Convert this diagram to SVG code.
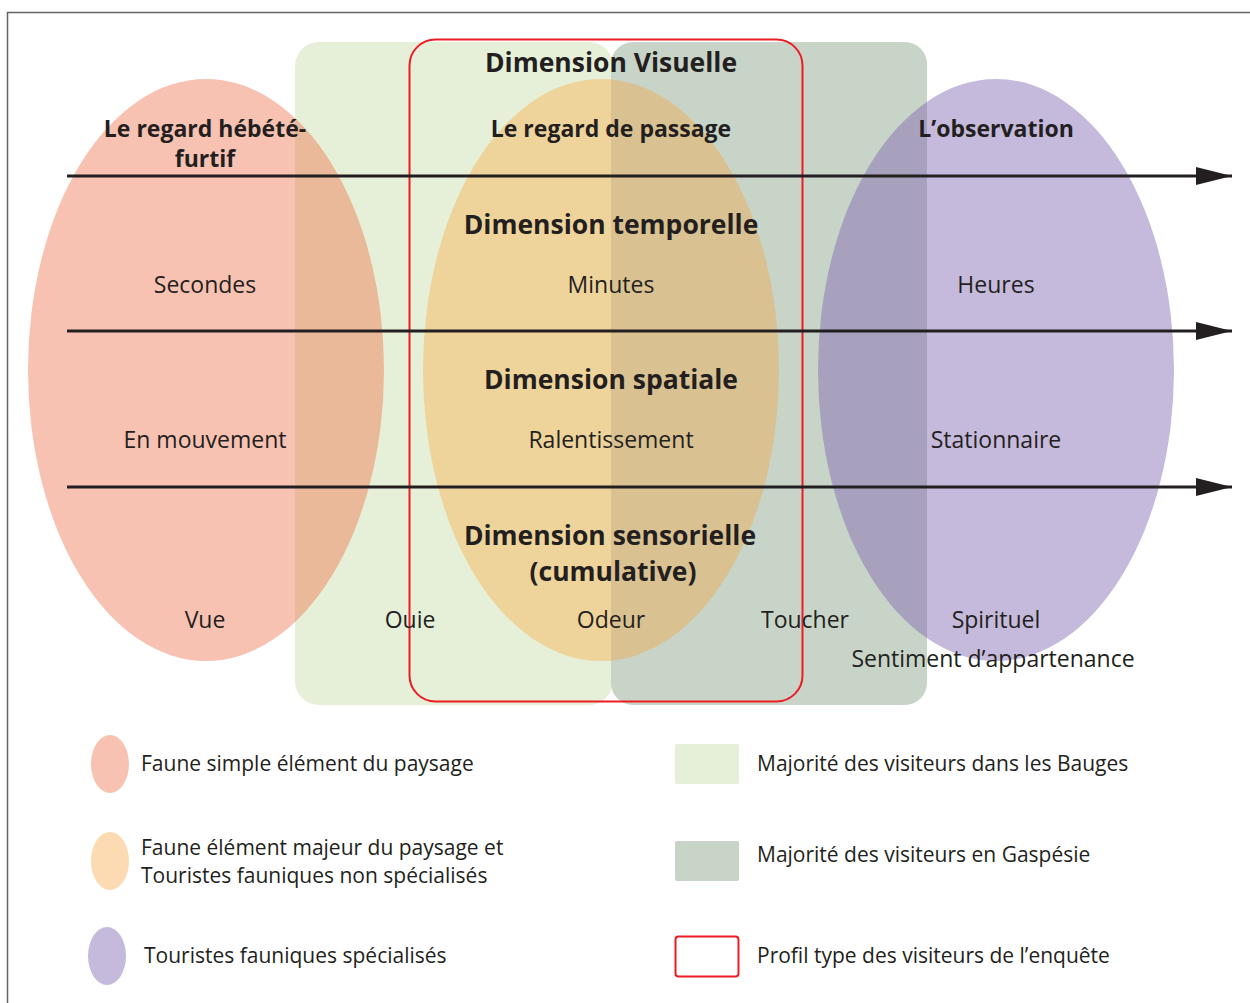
<svg xmlns="http://www.w3.org/2000/svg" width="1250" height="1003" viewBox="0 0 1250 1003">
<defs>
<style>
.t{font-family:"Open Sans","Noto Sans","Liberation Sans",sans-serif;fill:#231f20;text-anchor:middle}
.n{font-size:23px}
.b{font-size:23px;font-weight:bold}
.h{font-size:26.5px;font-weight:bold}
.l{font-family:"Open Sans","Noto Sans","Liberation Sans",sans-serif;fill:#231f20;font-size:21px}
.ax{stroke:#231f20;stroke-width:3;fill:none}
</style>
<marker id="ah" viewBox="0 0 12 6" refX="12" refY="3" markerWidth="12" markerHeight="6" markerUnits="strokeWidth" orient="auto">
<path d="M0,0 L12,3 L0,6 Z" fill="#231f20"/>
</marker>
</defs>
<rect x="0" y="0" width="1250" height="1003" fill="#ffffff"/>
<path d="M7.5,1003 V12.5 H1250" fill="none" stroke="#666" stroke-width="1.5"/>
<g id="zone-bauges"><rect x="295" y="42" width="318" height="663" rx="24" fill="#e6f0d8"/></g>
<g id="zone-gaspesie"><rect x="611" y="42" width="316" height="663" rx="22" fill="#c8d4c8"/></g>
<g id="ellipse-pink"><ellipse cx="206" cy="370" rx="178" ry="291" fill="#ed663e" fill-opacity="0.4"/></g>
<g id="ellipse-orange"><ellipse cx="601" cy="370" rx="178" ry="291" fill="#fd9d2c" fill-opacity="0.35"/></g>
<g id="ellipse-purple"><ellipse cx="996" cy="370" rx="178" ry="291" fill="#7f64b2" fill-opacity="0.45"/></g>
<g id="profil"><rect x="409.5" y="39.5" width="393" height="662" rx="26" fill="none" stroke="#ec1c24" stroke-width="2"/></g>
<g id="connectors">
<line class="ax" x1="67" y1="176" x2="1232" y2="176" marker-end="url(#ah)"/>
<line class="ax" x1="67" y1="331" x2="1232" y2="331" marker-end="url(#ah)"/>
<line class="ax" x1="67" y1="487" x2="1232" y2="487" marker-end="url(#ah)"/>
</g>
<g id="labels">
<text class="t h" x="611" y="72">Dimension Visuelle</text>
<text class="t b" x="205" y="137">Le regard hébété-</text>
<text class="t b" x="205" y="167">furtif</text>
<text class="t b" x="611" y="137">Le regard de passage</text>
<text class="t b" x="996" y="137">L’observation</text>
<text class="t h" x="611" y="234">Dimension temporelle</text>
<text class="t n" x="205" y="293">Secondes</text>
<text class="t n" x="611" y="293">Minutes</text>
<text class="t n" x="996" y="293">Heures</text>
<text class="t h" x="611" y="389">Dimension spatiale</text>
<text class="t n" x="205" y="448">En mouvement</text>
<text class="t n" x="611" y="448">Ralentissement</text>
<text class="t n" x="996" y="448">Stationnaire</text>
<text class="t h" x="610" y="545">Dimension sensorielle</text>
<text class="t h" x="613" y="581">(cumulative)</text>
<text class="t n" x="205" y="628">Vue</text>
<text class="t n" x="410" y="628">Ouie</text>
<text class="t n" x="611" y="628">Odeur</text>
<text class="t n" x="805" y="628">Toucher</text>
<text class="t n" x="996" y="628">Spirituel</text>
<text class="t n" x="993" y="667">Sentiment d’appartenance</text>
</g>
<g id="legend">
<g id="leg-pink"><ellipse cx="110" cy="764" rx="19" ry="29" fill="#f8c2b2"/><text class="l" x="141" y="771">Faune simple élément du paysage</text></g>
<g id="leg-orange"><ellipse cx="110" cy="861" rx="19" ry="29" fill="#fcdab2"/><text class="l" x="141" y="855">Faune élément majeur du paysage et</text><text class="l" x="141" y="883">Touristes fauniques non spécialisés</text></g>
<g id="leg-purple"><ellipse cx="107" cy="956" rx="19" ry="29" fill="#c5b9dc"/><text class="l" x="144" y="963">Touristes fauniques spécialisés</text></g>
<g id="leg-bauges"><rect x="675" y="744" width="64" height="40" rx="2" fill="#e6f0d8"/><text class="l" x="757" y="771">Majorité des visiteurs dans les Bauges</text></g>
<g id="leg-gaspesie"><rect x="675" y="841" width="64" height="40" rx="2" fill="#c8d4c8"/><text class="l" x="757" y="862">Majorité des visiteurs en Gaspésie</text></g>
<g id="leg-profil"><rect x="675.5" y="936.5" width="63" height="40" rx="3" fill="none" stroke="#ec1c24" stroke-width="2"/><text class="l" x="757" y="963">Profil type des visiteurs de l’enquête</text></g>
</g>
</svg>
